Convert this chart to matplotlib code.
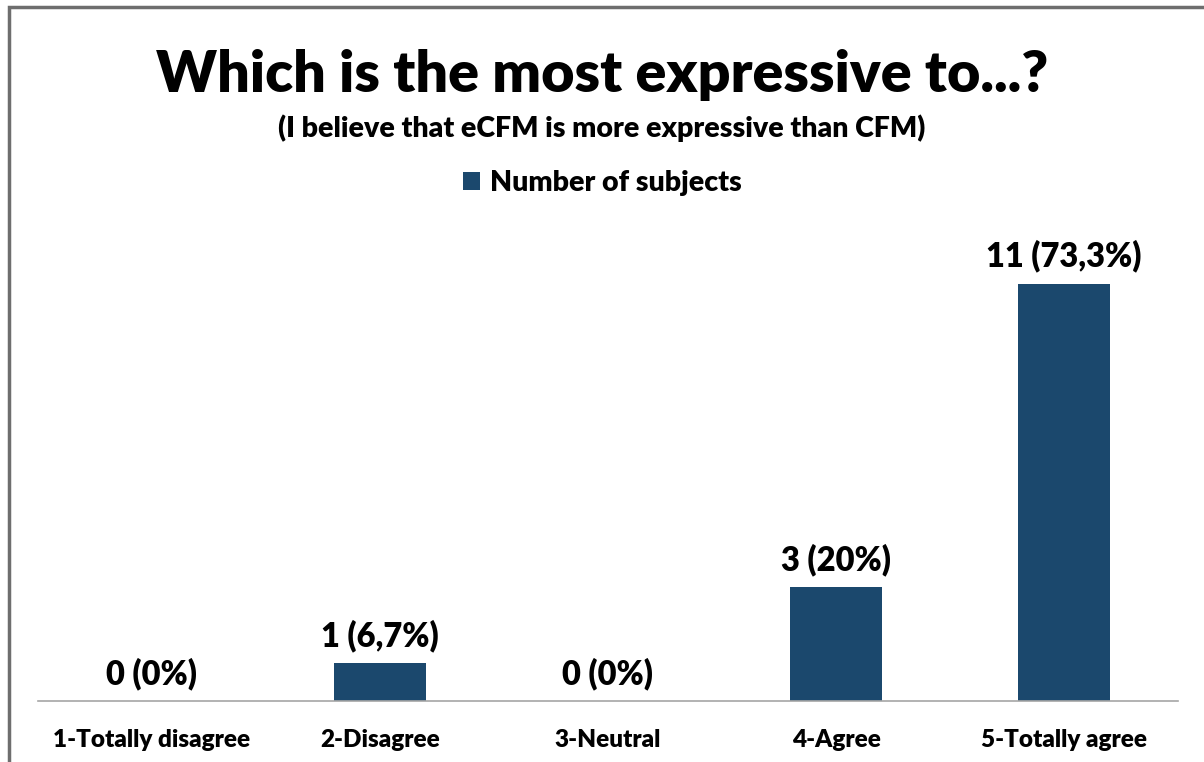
import matplotlib
matplotlib.use("Agg")
import matplotlib.pyplot as plt
from matplotlib.patches import Rectangle

# survey answers
categories = ["1-Totally disagree", "2-Disagree", "3-Neutral", "4-Agree", "5-Totally agree"]
counts = [0, 1, 0, 3, 11]
percent_labels = ["0%", "6,7%", "0%", "20%", "73,3%"]

bar_color = "#1b486d"
plt.rcParams["font.family"] = ["Lato", "DejaVu Sans"]
plt.rcParams["font.weight"] = "heavy"

W, H = 1204, 762
fig = plt.figure(figsize=(W / 100, H / 100), dpi=100)

# plot area in pixel terms
left, right, base, top = 38, 1178, 701, 246
ax = fig.add_axes([left / W, (H - base) / H, (right - left) / W, (base - top) / H])

x = range(len(categories))
ax.bar(x, counts, width=0.4, color=bar_color, label="Number of subjects")
ax.set_xlim(-0.5, len(categories) - 0.5)
ax.set_ylim(0, 12)

for xi, c, p in zip(x, counts, percent_labels):
    ax.annotate(f"{c} ({p})", (xi, c), xytext=(0, 8), textcoords="offset points",
                ha="center", va="bottom", fontsize=23.5, fontweight="heavy")

ax.set_xticks(list(x))
ax.set_xticklabels(categories, fontsize=17.5, fontweight="heavy")
ax.tick_params(axis="x", length=0, pad=20)
ax.set_yticks([])
for s in ["top", "right", "left"]:
    ax.spines[s].set_visible(False)
ax.spines["bottom"].set_color("#a6a6a6")
ax.spines["bottom"].set_linewidth(1.2)

fig.text(0.5, 1 - 75 / H, "Which is the most expressive to...?", ha="center", va="center",
         fontsize=41.3, fontweight="heavy")
fig.text(0.5, 1 - 128 / H, "(I believe that eCFM is more expressive than CFM)", ha="center",
         va="center", fontsize=20.5, fontweight="heavy")

leg = fig.legend(loc="center", bbox_to_anchor=(0.5, 1 - 183 / H), frameon=False,
                 prop={"size": 20.5, "weight": "heavy"}, handlelength=0.6, handleheight=0.6,
                 handletextpad=0.35)

# outer chart frame (runs off the right and bottom edges)
fig.patches.append(Rectangle((9 / W, -0.05), 1.2, 1 - 7 / H + 0.05, transform=fig.transFigure,
                             fill=False, edgecolor="#6e6e6e", linewidth=2.5))

fig.savefig("out.png", dpi=100)
